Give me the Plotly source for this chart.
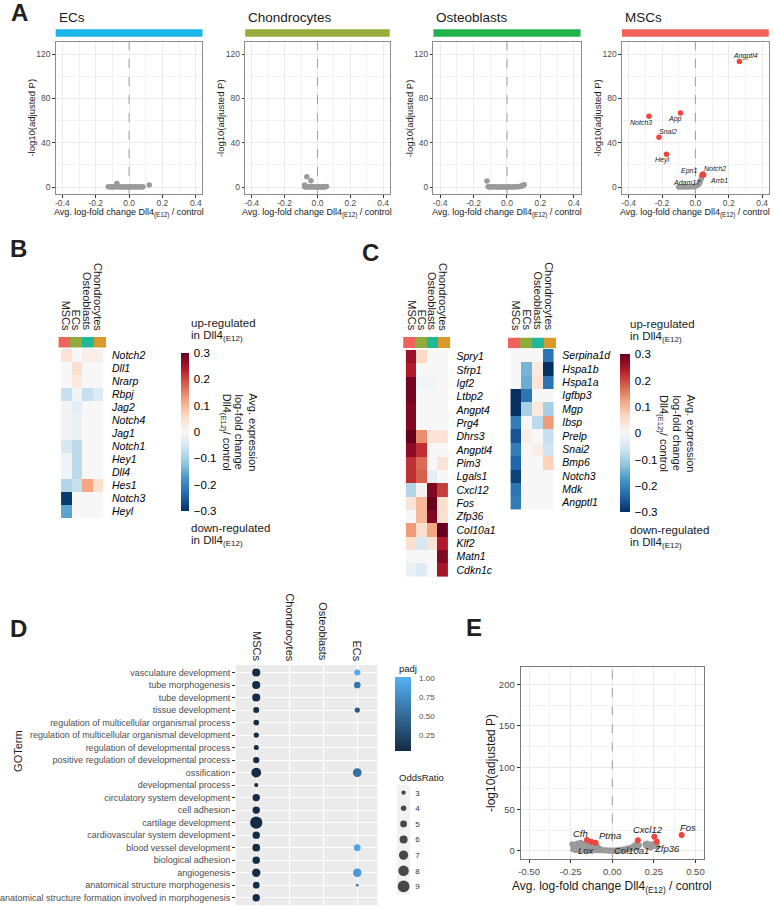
import plotly.graph_objects as go

W, H = 774, 906
FONT = "Liberation Sans, Arial, sans-serif"


def X(p):
    return p / W


def Y(p):
    return 1 - p / H


def dx(a, b):
    return [X(a), X(b)]


def dy(top, bot):
    return [Y(bot), Y(top)]


def xn(n):
    return "x" if n == 1 else f"x{n}"


def yn(n):
    return "y" if n == 1 else f"y{n}"


def xk(n):
    return "xaxis" if n == 1 else f"xaxis{n}"


def yk(n):
    return "yaxis" if n == 1 else f"yaxis{n}"


# ======================= DATA =======================
# ---- Panel A: volcano plots per cell type ----
a_panels = ["ECs", "Chondrocytes", "Osteoblasts", "MSCs"]
a_strip_colors = ["#1BB6E8", "#98AE3B", "#22B24C", "#F1625B"]
a_xticks = [-0.4, -0.2, 0.0, 0.2, 0.4]
a_xticktext = ["-0.4", "-0.2", "0.0", "0.2", "0.4"]
a_xminor = [-0.3, -0.1, 0.1, 0.3]
a_yticks = [0, 40, 80, 120]
a_yminor = [20, 60, 100]
a_yrange = [-6.25, 131.25]

ecs_x = [-0.125, -0.115, -0.105, -0.095, -0.085, -0.075, -0.065, -0.055, -0.045, -0.035,
         -0.025, -0.015, -0.005, 0.005, 0.015, 0.025, 0.035, 0.045, 0.055, 0.065,
         0.075, 0.083, -0.073, 0.121]
ecs_y = [0.2, 0.0, 0.3, 0.0, 0.2, 0.4, 0.0, 0.2, 0.0, 0.1,
         0.0, 0.3, 0.0, 0.2, 0.0, 0.1, 0.3, 0.0, 0.2, 0.0,
         0.1, 0.3, 3.3, 1.8]

chon_x = [-0.078, -0.070, -0.062, -0.054, -0.046, -0.038, -0.030, -0.022, -0.014, -0.006,
          0.002, 0.010, 0.018, 0.026, 0.034, 0.042, 0.050, 0.055, -0.065, -0.040, -0.078]
chon_y = [0.3, 0.0, 0.2, 0.0, 0.3, 0.0, 0.2, 0.0, 0.1, 0.0,
          0.2, 0.0, 0.1, 0.0, 0.2, 0.0, 0.3, 0.5, 9.3, 5.7, 1.8]

ost_x = [-0.113, -0.103, -0.093, -0.083, -0.073, -0.063, -0.053, -0.043, -0.033, -0.023,
         -0.013, -0.003, 0.007, 0.017, 0.027, 0.037, 0.047, 0.057, 0.067, 0.077,
         0.085, 0.090, 0.095, 0.103, -0.120]
ost_y = [0.2, 0.0, 0.3, 0.0, 0.2, 0.0, 0.1, 0.0, 0.2, 0.0,
         0.1, 0.0, 0.2, 0.0, 0.1, 0.0, 0.3, 0.2, 0.4, 0.6,
         0.8, 1.2, 1.5, 2.2, 5.4]

msc_gray_x = [-0.10, -0.09, -0.08, -0.07, -0.06, -0.05, -0.04, -0.03, -0.02, -0.01,
              0.00, 0.01, 0.02, 0.025, 0.03, 0.035, 0.038]
msc_gray_y = [0.0, 0.3, 0.0, 0.5, 0.0, 0.3, 0.0, 0.6, 0.2, 0.4,
              1.0, 1.2, 2.5, 4.0, 5.5, 7.5, 9.0]
msc_red_x = [0.264, -0.278, -0.089, -0.218, -0.173, 0.046, 0.040, 0.050]
msc_red_y = [113.4, 64.0, 66.9, 45.0, 29.7, 11.7, 10.8, 11.0]
msc_lab_text = ["Angptl4", "Notch3", "App", "Snai2", "Heyl", "Notch2", "Epn1", "Arrb1", "Adam17"]
msc_lab_x = [0.30, -0.327, -0.123, -0.165, -0.20, 0.119, -0.04, 0.139, -0.05]
msc_lab_y = [118.0, 58.2, 61.2, 49.8, 24.3, 16.8, 14.4, 6.3, 3.9]

# ---- Heatmap shared ----
hm_cols = ["MSCs", "ECs", "Osteoblasts", "Chondrocytes"]
hm_col_colors = ["#F0625B", "#8FAB3B", "#21B89A", "#D99A2B"]
cb_ticks = [-0.3, -0.2, -0.1, 0.0, 0.1, 0.2, 0.3]
cb_ticktext = ["\u22120.3", "\u22120.2", "\u22120.1", "0", "0.1", "0.2", "0.3"]

# ---- Panel B ----
b_genes = ["Notch2", "Dll1", "Nrarp", "Rbpj", "Jag2", "Notch4", "Jag1",
           "Notch1", "Hey1", "Dll4", "Hes1", "Notch3", "Heyl"]
b_MSCs = [0.04, 0.0, 0.0, -0.07, -0.01, -0.01, -0.01, -0.05, -0.01, -0.01, -0.09, -0.29, -0.16]
b_ECs = [0.0, 0.05, 0.03, -0.01, -0.03, -0.02, -0.02, -0.08, -0.08, -0.08, -0.07, 0.0, 0.0]
b_Ost = [0.02, 0.0, 0.0, -0.07, 0.0, 0.0, 0.0, 0.0, 0.0, 0.0, 0.12, 0.0, 0.0]
b_Chon = [0.02, 0.0, 0.0, -0.04, 0.0, 0.0, 0.0, 0.0, 0.0, 0.0, 0.05, 0.0, 0.0]

# ---- Panel C (left) ----
c1_genes = ["Spry1", "Sfrp1", "Igf2", "Ltbp2", "Angpt4", "Prg4", "Dhrs3", "Angptl4", "Pim3",
            "Lgals1", "Cxcl12", "Fos", "Zfp36", "Col10a1", "Klf2", "Matn1", "Cdkn1c"]
c1_MSCs = [0.26, 0.24, 0.29, 0.29, 0.28, 0.28, 0.30, 0.27, 0.22, 0.22, -0.09, 0.04, 0.0, 0.13, 0.05, 0.0, -0.02]
c1_ECs = [0.06, 0.0, -0.01, 0.0, 0.0, 0.0, 0.14, 0.22, 0.17, 0.18, 0.01, 0.10, 0.10, 0.05, -0.05, 0.0, -0.04]
c1_Ost = [0.0, 0.0, -0.01, 0.0, 0.0, 0.0, 0.04, 0.0, 0.0, -0.03, 0.28, 0.30, 0.28, 0.12, 0.04, 0.0, 0.0]
c1_Chon = [0.0, 0.0, 0.0, 0.0, 0.0, 0.0, 0.04, 0.0, 0.04, 0.0, 0.21, 0.05, 0.05, 0.30, 0.24, 0.28, 0.25]

# ---- Panel C (right) ----
c2_genes = ["Serpina1d", "Hspa1b", "Hspa1a", "Igfbp3", "Mgp", "Ibsp", "Prelp",
            "Snai2", "Bmp6", "Notch3", "Mdk", "Angptl1"]
c2_MSCs = [0.0, 0.0, 0.0, -0.30, -0.30, -0.21, -0.26, -0.21, -0.24, -0.28, -0.22, -0.21]
c2_ECs = [0.0, -0.14, -0.15, -0.22, -0.10, 0.0, 0.02, 0.0, 0.0, 0.0, 0.0, 0.0]
c2_Ost = [0.0, 0.03, 0.04, 0.0, 0.03, -0.08, 0.0, 0.02, 0.0, 0.0, 0.0, 0.0]
c2_Chon = [-0.22, -0.30, -0.22, 0.0, -0.10, 0.13, -0.07, -0.06, 0.07, 0.0, 0.0, 0.0]

# ---- Panel D: GO enrichment dot plot ----
d_cols = ["MSCs", "Chondrocytes", "Osteoblasts", "ECs"]
d_terms = ["vasculature development", "tube morphogenesis", "tube development", "tissue development",
           "regulation of multicellular organismal process",
           "regulation of multicellular organismal development",
           "regulation of developmental process", "positive regulation of developmental process",
           "ossification", "developmental process", "circulatory system development",
           "cell adhesion", "cartilage development", "cardiovascular system development",
           "blood vessel development", "biological adhesion", "angiogenesis",
           "anatomical structure morphogenesis",
           "anatomical structure formation involved in morphogenesis"]
d_msc_or = [6.0, 6.0, 6.0, 4.4, 4.1, 3.8, 3.6, 4.6, 7.4, 2.8, 5.5, 5.5, 9.3, 5.5, 5.7, 5.5, 6.3, 4.9, 5.5]
d_msc_padj = [0.05, 0.05, 0.05, 0.06, 0.05, 0.05, 0.06, 0.05, 0.05, 0.06, 0.05, 0.05, 0.04, 0.05,
              0.05, 0.05, 0.05, 0.06, 0.05]
d_ec_terms = ["vasculature development", "tube morphogenesis", "tissue development", "ossification",
              "blood vessel development", "angiogenesis", "anatomical structure morphogenesis"]
d_ec_or = [4.4, 4.9, 3.8, 6.6, 4.9, 6.3, 1.7]
d_ec_padj = [0.97, 0.58, 0.38, 0.55, 0.93, 0.83, 0.62]
d_or_legend = [3, 4, 5, 6, 7, 8, 9]
d_padj_ticks = [0.25, 0.50, 0.75, 1.00]
d_padj_ticktext = ["0.25", "0.50", "0.75", "1.00"]

# ---- Panel E: volcano ----
e_xticks = [-0.5, -0.25, 0.0, 0.25, 0.5]
e_xticktext = ["-0.50", "-0.25", "0.00", "0.25", "0.50"]
e_xminor = [-0.375, -0.125, 0.125, 0.375]
e_yticks = [0, 50, 100, 150, 200]
e_yminor = [25, 75, 125, 175]
e_yrange = [-10.0, 220.4]
e_gray_x = [-0.240, -0.235, -0.225, -0.220, -0.210, -0.205, -0.200, -0.195, -0.190, -0.185,
            -0.180, -0.175, -0.170, -0.165, -0.160, -0.155, -0.150, -0.145, -0.140, -0.135,
            -0.130, -0.125, -0.120, -0.115, -0.110, -0.105, -0.100, -0.095, -0.090, -0.085,
            -0.080, -0.075, -0.070, -0.060, -0.050, -0.040, -0.030, -0.020, -0.010, 0.000,
            0.010, 0.020, 0.030, 0.040, 0.050, 0.060, 0.070, 0.080, 0.090, 0.100,
            0.110, 0.120, 0.130, 0.140, 0.145, 0.150, 0.160, 0.200, 0.205, 0.210,
            0.220, 0.225, 0.230, 0.240, 0.250, 0.260, 0.270]
e_gray_y = [8, 2, 5, 1, 9, 3, 7, 1, 10, 4,
            8, 2, 6, 1, 9, 3, 7, 0.5, 5, 2,
            8, 1, 6, 3, 4, 1, 7, 2, 5, 1,
            3, 1, 2, 1, 0.5, 1, 0.5, 0.3, 0.5, 0.2,
            0.5, 0.3, 1, 0.5, 1.5, 1, 2, 1.5, 3, 2,
            4, 3, 6, 5, 8, 4, 7, 8, 6, 9,
            5, 7, 4, 8, 6, 9, 5]
e_red_x = [-0.152, -0.126, -0.100, 0.154, 0.253, 0.268, 0.417]
e_red_y = [13.2, 11.2, 10.0, 13.0, 17.2, 11.0, 19.2]
e_lab_text = ["Cfh", "Ptma", "Cxcl12", "Fos", "Lox", "Col10a1", "Zfp36"]
e_lab_x = [-0.191, -0.012, 0.213, 0.456, -0.156, 0.115, 0.332]
e_lab_y = [21.2, 18.0, 25.2, 28.4, 0.0, 0.0, 2.4]

# ======================= FIGURE =======================
fig = go.Figure()
layout = dict(width=W, height=H, margin=dict(l=0, r=0, t=0, b=0),
              paper_bgcolor="white", plot_bgcolor="rgba(0,0,0,0)",
              font=dict(family=FONT, color="#1A1A1A"), showlegend=False)
shapes = []
anns = []

TXT = "#1A1A1A"
GRAYTXT = "#4D4D4D"
BORDER = "#8C8C8C"


def pann(text, x, y, size, xanchor="center", yanchor="middle", angle=0, color=TXT, align="center"):
    anns.append(dict(text=text, x=X(x), y=Y(y), xref="paper", yref="paper", showarrow=False,
                     xanchor=xanchor, yanchor=yanchor, textangle=angle, align=align,
                     font=dict(size=size, color=color, family=FONT)))


def zero_line(n, yr):
    fig.add_trace(go.Scatter(x=[0, 0], y=yr, mode="lines", xaxis=xn(n), yaxis=yn(n), hoverinfo="skip",
                             line=dict(color="#8A8A8A", width=0.8, dash="dash")))


# Panel letters
for letter, lx, ly in [("A", 11, 13), ("B", 10, 248), ("C", 366, 253), ("D", 10, 628), ("E", 471, 627)]:
    pann(f"<b>{letter}</b>", lx, ly, 24, color="#231F20")

# ---------------- Panel A ----------------
a_xdom = [(47.3, 196.0), (239.3, 385.7), (430.0, 579.0), (621.0, 769.7)]
a_top, a_bot = 41.7, 194.0
a_sets = [(ecs_x, ecs_y), (chon_x, chon_y), (ost_x, ost_y), (msc_gray_x, msc_gray_y)]
xtitle_A = "Avg. log-fold change Dll4<sub>(E12)</sub> / control"
for i in range(4):
    n = i + 1
    xl, xr = a_xdom[i]
    layout[xk(n)] = dict(domain=dx(xl, xr), anchor=yn(n), range=[-0.44, 0.44],
                         tickvals=a_xticks, ticktext=a_xticktext, ticks="outside", ticklen=2.5,
                         tickcolor="#333333", tickwidth=0.8, tickfont=dict(size=8.5, color=GRAYTXT),
                         ticklabelstandoff=-2,
                         showgrid=True, gridcolor="#EBEBEB", gridwidth=1,
                         minor=dict(tickvals=a_xminor, showgrid=True, gridcolor="#F2F2F2", gridwidth=0.6, ticks=""),
                         showline=True, mirror=True, linecolor=BORDER, linewidth=1, zeroline=False)
    layout[yk(n)] = dict(domain=dy(a_top, a_bot), anchor=xn(n), range=a_yrange,
                         tickvals=a_yticks, ticks="outside", ticklen=2.5, tickcolor="#333333", tickwidth=0.8,
                         tickfont=dict(size=8.5, color=GRAYTXT),
                         showgrid=True, gridcolor="#EBEBEB", gridwidth=1,
                         minor=dict(tickvals=a_yminor, showgrid=True, gridcolor="#F2F2F2", gridwidth=0.6, ticks=""),
                         showline=True, mirror=True, linecolor=BORDER, linewidth=1, zeroline=False)
    zero_line(n, a_yrange)
    sx, sy = a_sets[i]
    fig.add_trace(go.Scatter(x=sx, y=sy, mode="markers", xaxis=xn(n), yaxis=yn(n),
                             marker=dict(color="#9A9A9A", size=5.5, line=dict(width=0)), hoverinfo="skip"))
    # strip
    shapes.append(dict(type="rect", xref="paper", yref="paper", x0=X(xl), x1=X(xr),
                       y0=Y(36.7), y1=Y(29.3), fillcolor=a_strip_colors[i], line=dict(width=0)))
    pann(a_panels[i], xl + 1, 18, 13.5, xanchor="left")
    pann("-log10(adjusted P)", xl - 24.3, (a_top + a_bot) / 2, 9.5, angle=-90)
    pann(xtitle_A, (xl + xr) / 2, 213, 9)

fig.add_trace(go.Scatter(x=msc_red_x, y=msc_red_y, mode="markers", xaxis="x4", yaxis="y4",
                         marker=dict(color="#F0453F", size=5.5, line=dict(width=0)), hoverinfo="skip"))
for t, lx, ly in zip(msc_lab_text, msc_lab_x, msc_lab_y):
    anns.append(dict(text=f"<i>{t}</i>", x=lx, y=ly, xref="x4", yref="y4", showarrow=False,
                     font=dict(size=7, color="#1A1A1A", family=FONT)))

# ---------------- Heatmaps ----------------
rdbu11 = ["#053061", "#2166AC", "#4393C3", "#92C5DE", "#D1E5F0", "#F7F7F7",
          "#FDDBC7", "#F4A582", "#D6604D", "#B2182B", "#67001F"]
rdbu_cs = [[i / 10, c] for i, c in enumerate(rdbu11)]
nc = len(hm_col_colors)
ann_cs = []
for i, c in enumerate(hm_col_colors):
    lo = max(0.0, (i - 0.5) / (nc - 1))
    hi = min(1.0, (i + 0.5) / (nc - 1))
    ann_cs += [[lo, c], [hi, c]]


def heat_block(nh, na, genes, cols_vals, xl, xr, ann_top, ann_bot, hm_top, hm_bot, label_bot, cb=None):
    z = [list(row) for row in zip(*cols_vals)]
    fig.add_trace(go.Heatmap(x=hm_cols, y=genes, z=z, colorscale=rdbu_cs, zmin=-0.3, zmax=0.3,
                             showscale=cb is not None, colorbar=cb if cb else None,
                             xaxis=xn(nh), yaxis=yn(nh), hoverinfo="skip"))
    layout[xk(nh)] = dict(domain=dx(xl, xr), anchor=yn(nh), showticklabels=False, showgrid=False,
                          zeroline=False, ticks="", type="category", categoryorder="array",
                          categoryarray=hm_cols)
    layout[yk(nh)] = dict(domain=dy(hm_top, hm_bot), anchor=xn(nh), side="right", autorange="reversed",
                          type="category", showgrid=False, zeroline=False, ticks="",
                          tickmode="array", tickvals=genes, ticktext=genes,
                          tickfont=dict(size=10.5, style="italic", color="black", family=FONT),
                          ticklabelstandoff=5)
    fig.add_trace(go.Heatmap(x=hm_cols, y=["annotation"], z=[list(range(nc))], colorscale=ann_cs,
                             zmin=0, zmax=nc - 1, showscale=False, xaxis=xn(na), yaxis=yn(na),
                             hoverinfo="skip"))
    layout[xk(na)] = dict(domain=dx(xl, xr), anchor=yn(na), visible=False, type="category",
                          categoryorder="array", categoryarray=hm_cols)
    layout[yk(na)] = dict(domain=dy(ann_top, ann_bot), anchor=xn(na), visible=False)
    for c in hm_cols:
        anns.append(dict(text=c, x=c, y=Y(label_bot), xref=xn(nh), yref="paper", showarrow=False,
                         textangle=90, xanchor="center", yanchor="bottom",
                         font=dict(size=11, color="#1A1A1A", family=FONT)))


def cbar(left, top, length, thick):
    return dict(thickness=thick, thicknessmode="pixels", len=length, lenmode="pixels",
                x=X(left), xanchor="left", y=Y(top), yanchor="top", xpad=0, ypad=0,
                outlinewidth=0, tickvals=cb_ticks, ticktext=cb_ticktext,
                tickfont=dict(size=11.5, color="black", family=FONT),
                ticks="outside", ticklen=3, tickcolor="rgba(0,0,0,0)")


def cbar_texts(left, top, bottom, rot_x):
    pann("up-regulated", left + 8, top - 30, 11.5, xanchor="left")
    pann("in Dll4<sub>(E12)</sub>", left + 8, top - 17, 11.5, xanchor="left")
    pann("down-regulated", left + 8, bottom + 17, 11.5, xanchor="left")
    pann("in Dll4<sub>(E12)</sub>", left + 8, bottom + 30, 11.5, xanchor="left")
    mid = (top + bottom) / 2
    pann("Avg. expression", rot_x[0], mid, 11, angle=90)
    pann("log-fold change", rot_x[1], mid, 11, angle=90)
    pann("Dll4<sub>(E12)</sub>/ control", rot_x[2], mid, 11, angle=90)


# Panel B
heat_block(5, 6, b_genes, [b_MSCs, b_ECs, b_Ost, b_Chon], 50.0, 98.3, 337.0, 347.5, 349.0, 518.0, 333.0,
           cb=cbar(174, 353, 158, 8))
cbar_texts(174, 353, 511, (247, 233.5, 220))

# Panel C left
heat_block(7, 8, c1_genes, [c1_MSCs, c1_ECs, c1_Ost, c1_Chon], 399.3, 447.3, 337.0, 348.3, 349.8, 576.7, 332.5)
# Panel C right
heat_block(9, 10, c2_genes, [c2_MSCs, c2_ECs, c2_Ost, c2_Chon], 505.5, 554.5, 337.5, 348.3, 348.8, 509.5, 332.5,
           cb=cbar(619.3, 354.3, 158.4, 10))
cbar_texts(619.3, 354.3, 512.7, (690, 676.7, 662))

# ---------------- Panel D ----------------
padj_cs = [[0, "#132B43"], [1, "#56B1F7"]]


def or_px(v):
    return 4.3 + (v - 3) * 1.25


d_x = [d_cols[0]] * len(d_terms) + [d_cols[3]] * len(d_ec_terms)
d_y = d_terms + d_ec_terms
d_or = d_msc_or + d_ec_or
d_padj = d_msc_padj + d_ec_padj
fig.add_trace(go.Scatter(
    x=d_x, y=d_y, mode="markers", xaxis="x11", yaxis="y11", hoverinfo="skip",
    marker=dict(size=[or_px(v) for v in d_or], color=d_padj, colorscale=padj_cs, cmin=0.04, cmax=1.02,
                line=dict(width=0), showscale=True, opacity=1,
                colorbar=dict(thickness=16, thicknessmode="pixels", len=74, lenmode="pixels",
                              x=X(390.7), xanchor="left", y=Y(676.7), yanchor="top", xpad=0, ypad=0,
                              outlinewidth=0, tickvals=d_padj_ticks, ticktext=d_padj_ticktext,
                              tickfont=dict(size=8, color=GRAYTXT, family=FONT),
                              ticks="outside", ticklen=7, tickcolor="rgba(0,0,0,0)"))))
layout["xaxis11"] = dict(domain=dx(230.0, 373.3), anchor="y11", type="category", categoryorder="array",
                         categoryarray=d_cols, range=[-0.6, 3.6], showticklabels=False, ticks="",
                         showgrid=True, gridcolor="white", gridwidth=1.2, zeroline=False, showline=False)
layout["yaxis11"] = dict(domain=dy(665.0, 905.2), anchor="x11", type="category", categoryorder="array",
                         categoryarray=d_terms, range=[len(d_terms) - 0.4, -0.6],
                         tickmode="array", tickvals=d_terms, ticktext=d_terms,
                         ticks="outside", ticklen=3, tickcolor="#333333", tickwidth=0.8,
                         tickfont=dict(size=9, color=GRAYTXT, family=FONT),
                         showgrid=True, gridcolor="white", gridwidth=1.2, zeroline=False, showline=False)
shapes.append(dict(type="rect", xref="paper", yref="paper", x0=X(230.0), x1=X(373.3),
                   y0=Y(905.2), y1=Y(665.0), fillcolor="#EBEBEB", line=dict(width=0), layer="below"))
for c in d_cols:
    anns.append(dict(text=c, x=c, y=Y(663.3), xref="x11", yref="paper", showarrow=False, textangle=90,
                     xanchor="center", yanchor="bottom", font=dict(size=11, color="#1A1A1A", family=FONT)))
pann("GOTerm", 9, 751, 11, angle=-90)
pann("padj", 393, 668, 9.5, xanchor="left")
pann("OddsRatio", 393, 777, 9.5, xanchor="left")

# size legend
fig.add_trace(go.Scatter(x=[0] * len(d_or_legend), y=d_or_legend, mode="markers", xaxis="x12", yaxis="y12",
                         hoverinfo="skip",
                         marker=dict(size=[or_px(v) for v in d_or_legend], color="black", line=dict(width=0))))
layout["xaxis12"] = dict(domain=dx(393.0, 406.5), anchor="y12", range=[-1, 1], visible=False)
layout["yaxis12"] = dict(domain=dy(784.9, 894.1), anchor="x12", range=[9.5, 2.5], side="right",
                         tickvals=d_or_legend, ticks="", showgrid=False, zeroline=False, showline=False,
                         tickfont=dict(size=8, color="#333333", family=FONT), ticklabelstandoff=4)
shapes.append(dict(type="rect", xref="paper", yref="paper", x0=X(393.0), x1=X(406.5),
                   y0=Y(894.1), y1=Y(784.9), fillcolor="#F2F2F2", line=dict(width=0), layer="below"))

# ---------------- Panel E ----------------
layout["xaxis13"] = dict(domain=dx(518.3, 704.0), anchor="y13", range=[-0.551, 0.551],
                         tickvals=e_xticks, ticktext=e_xticktext, ticks="outside", ticklen=3,
                         tickcolor="#333333", tickwidth=0.8, tickfont=dict(size=9.5, color=GRAYTXT, family=FONT),
                         showgrid=True, gridcolor="#EBEBEB", gridwidth=1,
                         minor=dict(tickvals=e_xminor, showgrid=True, gridcolor="#F2F2F2", gridwidth=0.6, ticks=""),
                         showline=True, mirror=True, linecolor="#7A7A7A", linewidth=1, zeroline=False)
layout["yaxis13"] = dict(domain=dy(667.3, 859.3), anchor="x13", range=e_yrange,
                         tickvals=e_yticks, ticks="outside", ticklen=3, tickcolor="#333333", tickwidth=0.8,
                         tickfont=dict(size=9.5, color=GRAYTXT, family=FONT),
                         showgrid=True, gridcolor="#EBEBEB", gridwidth=1,
                         minor=dict(tickvals=e_yminor, showgrid=True, gridcolor="#F2F2F2", gridwidth=0.6, ticks=""),
                         showline=True, mirror=True, linecolor="#7A7A7A", linewidth=1, zeroline=False)
zero_line(13, e_yrange)
fig.add_trace(go.Scatter(x=e_gray_x, y=e_gray_y, mode="markers", xaxis="x13", yaxis="y13", hoverinfo="skip",
                         marker=dict(color="#9A9A9A", size=6, line=dict(width=0))))
fig.add_trace(go.Scatter(x=e_red_x, y=e_red_y, mode="markers", xaxis="x13", yaxis="y13", hoverinfo="skip",
                         marker=dict(color="#F0453F", size=6, line=dict(width=0))))
for t, lx, ly in zip(e_lab_text, e_lab_x, e_lab_y):
    anns.append(dict(text=f"<i>{t}</i>", x=lx, y=ly, xref="x13", yref="y13", showarrow=False,
                     font=dict(size=9.5, color="#1A1A1A", family=FONT)))
pann("-log10(adjusted P)", 488.3, 763, 12, angle=-90)
pann("Avg. log-fold change Dll4<sub>(E12)</sub> / control", 611, 887, 12)

layout["shapes"] = shapes
layout["annotations"] = anns
fig.update_layout(**layout)
fig.write_html("out.html", config={"displayModeBar": False},
               post_script="document.body.style.margin='0px';document.body.style.padding='0px';"
                           "document.documentElement.style.overflow='hidden';")
